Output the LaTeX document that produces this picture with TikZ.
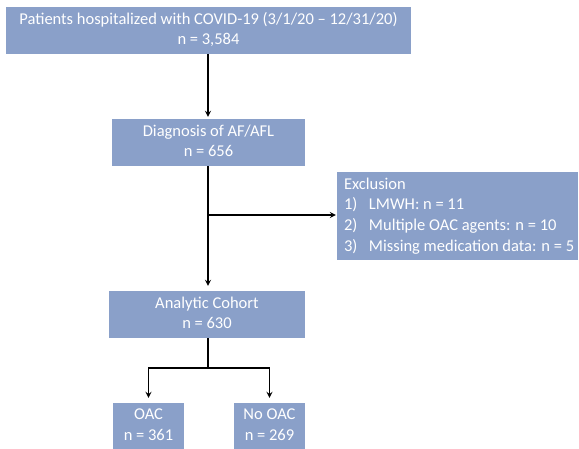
\documentclass[tikz,border=0pt]{standalone}
\usepackage{fontspec}
\setmainfont{Carlito}
\usetikzlibrary{arrows,positioning,calc}
\definecolor{boxblue}{RGB}{138,160,201}
\newcommand{\boxlines}[1]{\begin{tabular}{@{}c@{}}#1\end{tabular}}
\newcommand{\exitem}[2]{\makebox[25pt][l]{#1}#2}

\begin{document}
\begin{tikzpicture}[>=stealth, x=1pt, y=-1pt]
    \tikzset{
        block/.style={fill=boxblue, rectangle, inner sep=0pt, text=white, font=\fontsize{16.5}{20.6}\selectfont},
        line/.style={draw, ->, >=stealth, line width=1.6pt, shorten >=2pt}
    }
    \useasboundingbox (0,0) rectangle (579,449);
    % Main flow
    \node[block, minimum width=405pt, minimum height=47pt] (pts) at (208.5, 30.5) {\boxlines{Patients hospitalized with COVID-19 (3/1/20 -- 12/31/20)\\n = 3,584}};
    \node[block, minimum width=193pt, minimum height=47pt] (diag) at (208.5, 142.5) {\boxlines{Diagnosis of AF/AFL\\n = 656}};
    \node[block, minimum width=241pt, minimum height=88pt] (excl) at (457.5, 216) {\makebox[227pt][l]{\begin{tabular}{@{}l@{}}
        Exclusion\\
        \exitem{1)}{LMWH: n = 11}\\
        \exitem{2)}{Multiple OAC agents: n = 10}\\
        \exitem{3)}{Missing medication data: n = 5}
    \end{tabular}}};
    \node[block, minimum width=196pt, minimum height=47pt] (cohort) at (207, 314.5) {\boxlines{Analytic Cohort\\n = 630}};
    
    % Treatment groups
    \node[block, minimum width=71pt, minimum height=46pt] (oac) at (148.5, 426) {\boxlines{OAC\\n = 361}};
    \node[block, minimum width=71pt, minimum height=46pt] (nooac) at (269.5, 426) {\boxlines{No OAC\\n = 269}};
    
    % Connections
    \path[line] (pts.south -| 208,0) -- (diag.north -| 208,0);
    \path[line, shorten >=5pt] (diag.south -| 208,0) -- (cohort.north -| 208,0);
    \coordinate (split) at (208, 215);
    \path[line, shorten >=1pt] (split) -- (excl.west |- split);
    \coordinate (fork) at (208, 368);
    \draw[line width=1.6pt] (cohort.south -| 208,0) -- (fork);
    \path[line, shorten >=5pt] (fork) -| (oac.north);
    \path[line, shorten >=5pt] (fork) -| (nooac.north);
\end{tikzpicture}
\end{document}
